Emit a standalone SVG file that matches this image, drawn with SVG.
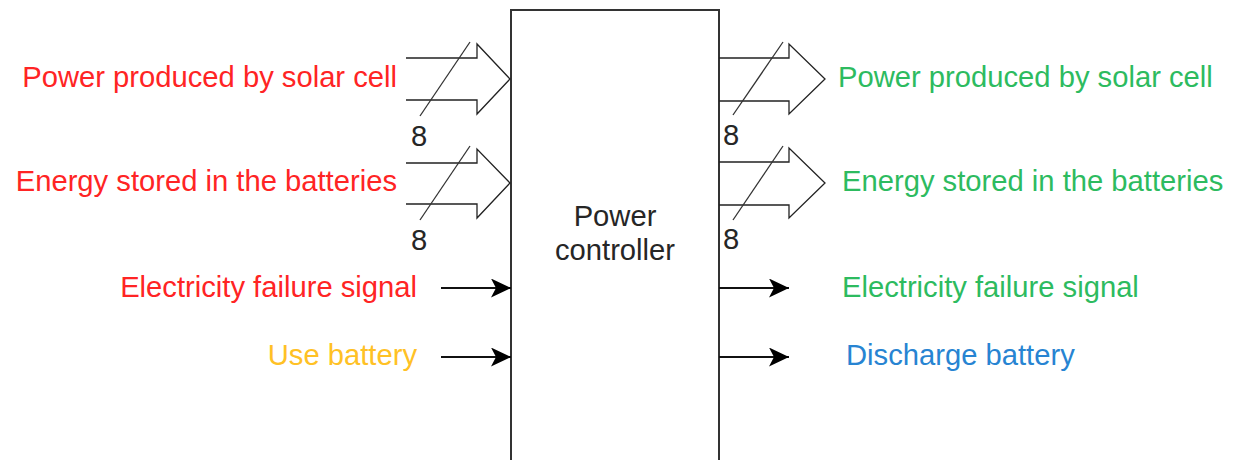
<svg xmlns="http://www.w3.org/2000/svg" width="1236" height="460" viewBox="0 0 1236 460">
  <defs>
    <style>
      text { font-family: "Liberation Sans", Arial, sans-serif; font-size: 29.2px; }
      .red { fill: #ff2424; }
      .green { fill: #2dbb5f; }
      .yellow { fill: #ffc125; }
      .blue { fill: #2784d2; }
      .dark { fill: #262626; }
      .bus { fill: none; stroke: #222222; stroke-width: 1.3; stroke-linejoin: miter; }
      .slash { stroke: #333333; stroke-width: 1.3; }
      .sig { stroke: #111111; stroke-width: 2; fill: none; }
    </style>
    <marker id="head" markerUnits="userSpaceOnUse" markerWidth="22" markerHeight="20" refX="20" refY="9.5" orient="auto">
      <path d="M0,0 L20,9.5 L0,19 L5,9.5 Z" fill="#000000"/>
    </marker>
  </defs>
  <rect width="1236" height="460" fill="#ffffff"/>

  <g id="controller">
    <rect x="511" y="10" width="208" height="470" fill="#ffffff" stroke="#333333" stroke-width="2"/>
    <text class="dark" x="615" y="226" text-anchor="middle">Power</text>
    <text class="dark" x="615" y="260" text-anchor="middle">controller</text>
  </g>

  <g id="connectors">
    <path class="bus" d="M406,58 H477 V44 L510,79 L477,114 V100 H406"/>
    <line class="slash" x1="470" y1="42" x2="420" y2="116"/>
    <path class="bus" d="M406,163 H477 V149 L510,183 L477,218 V204 H406"/>
    <line class="slash" x1="470" y1="146" x2="420" y2="220"/>
    <path class="bus" d="M719,58 H789 V44 L825,79 L789,114 V101 H719"/>
    <line class="slash" x1="783" y1="42" x2="733" y2="115"/>
    <path class="bus" d="M719,162 H789 V148 L825,183 L789,218 V205 H719"/>
    <line class="slash" x1="783" y1="146" x2="733" y2="220"/>
    <line class="sig" x1="441" y1="288" x2="511" y2="288" marker-end="url(#head)"/>
    <line class="sig" x1="441" y1="357" x2="511" y2="357" marker-end="url(#head)"/>
    <line class="sig" x1="719" y1="288" x2="789" y2="288" marker-end="url(#head)"/>
    <line class="sig" x1="719" y1="357" x2="789" y2="357" marker-end="url(#head)"/>
  </g>

  <g id="bus-width-labels">
    <text class="dark" x="411" y="146">8</text>
    <text class="dark" x="411" y="250">8</text>
    <text class="dark" x="723" y="145">8</text>
    <text class="dark" x="723" y="249">8</text>
  </g>

  <g id="inputs">
    <text class="red" x="397" y="87" text-anchor="end">Power produced by solar cell</text>
    <text class="red" x="397" y="191" text-anchor="end">Energy stored in the batteries</text>
    <text class="red" x="417" y="297" text-anchor="end">Electricity failure signal</text>
    <text class="yellow" x="417" y="365" text-anchor="end">Use battery</text>
  </g>

  <g id="outputs">
    <text class="green" x="838" y="87">Power produced by solar cell</text>
    <text class="green" x="842" y="191">Energy stored in the batteries</text>
    <text class="green" x="842" y="297">Electricity failure signal</text>
    <text class="blue" x="846" y="365">Discharge battery</text>
  </g>
</svg>
